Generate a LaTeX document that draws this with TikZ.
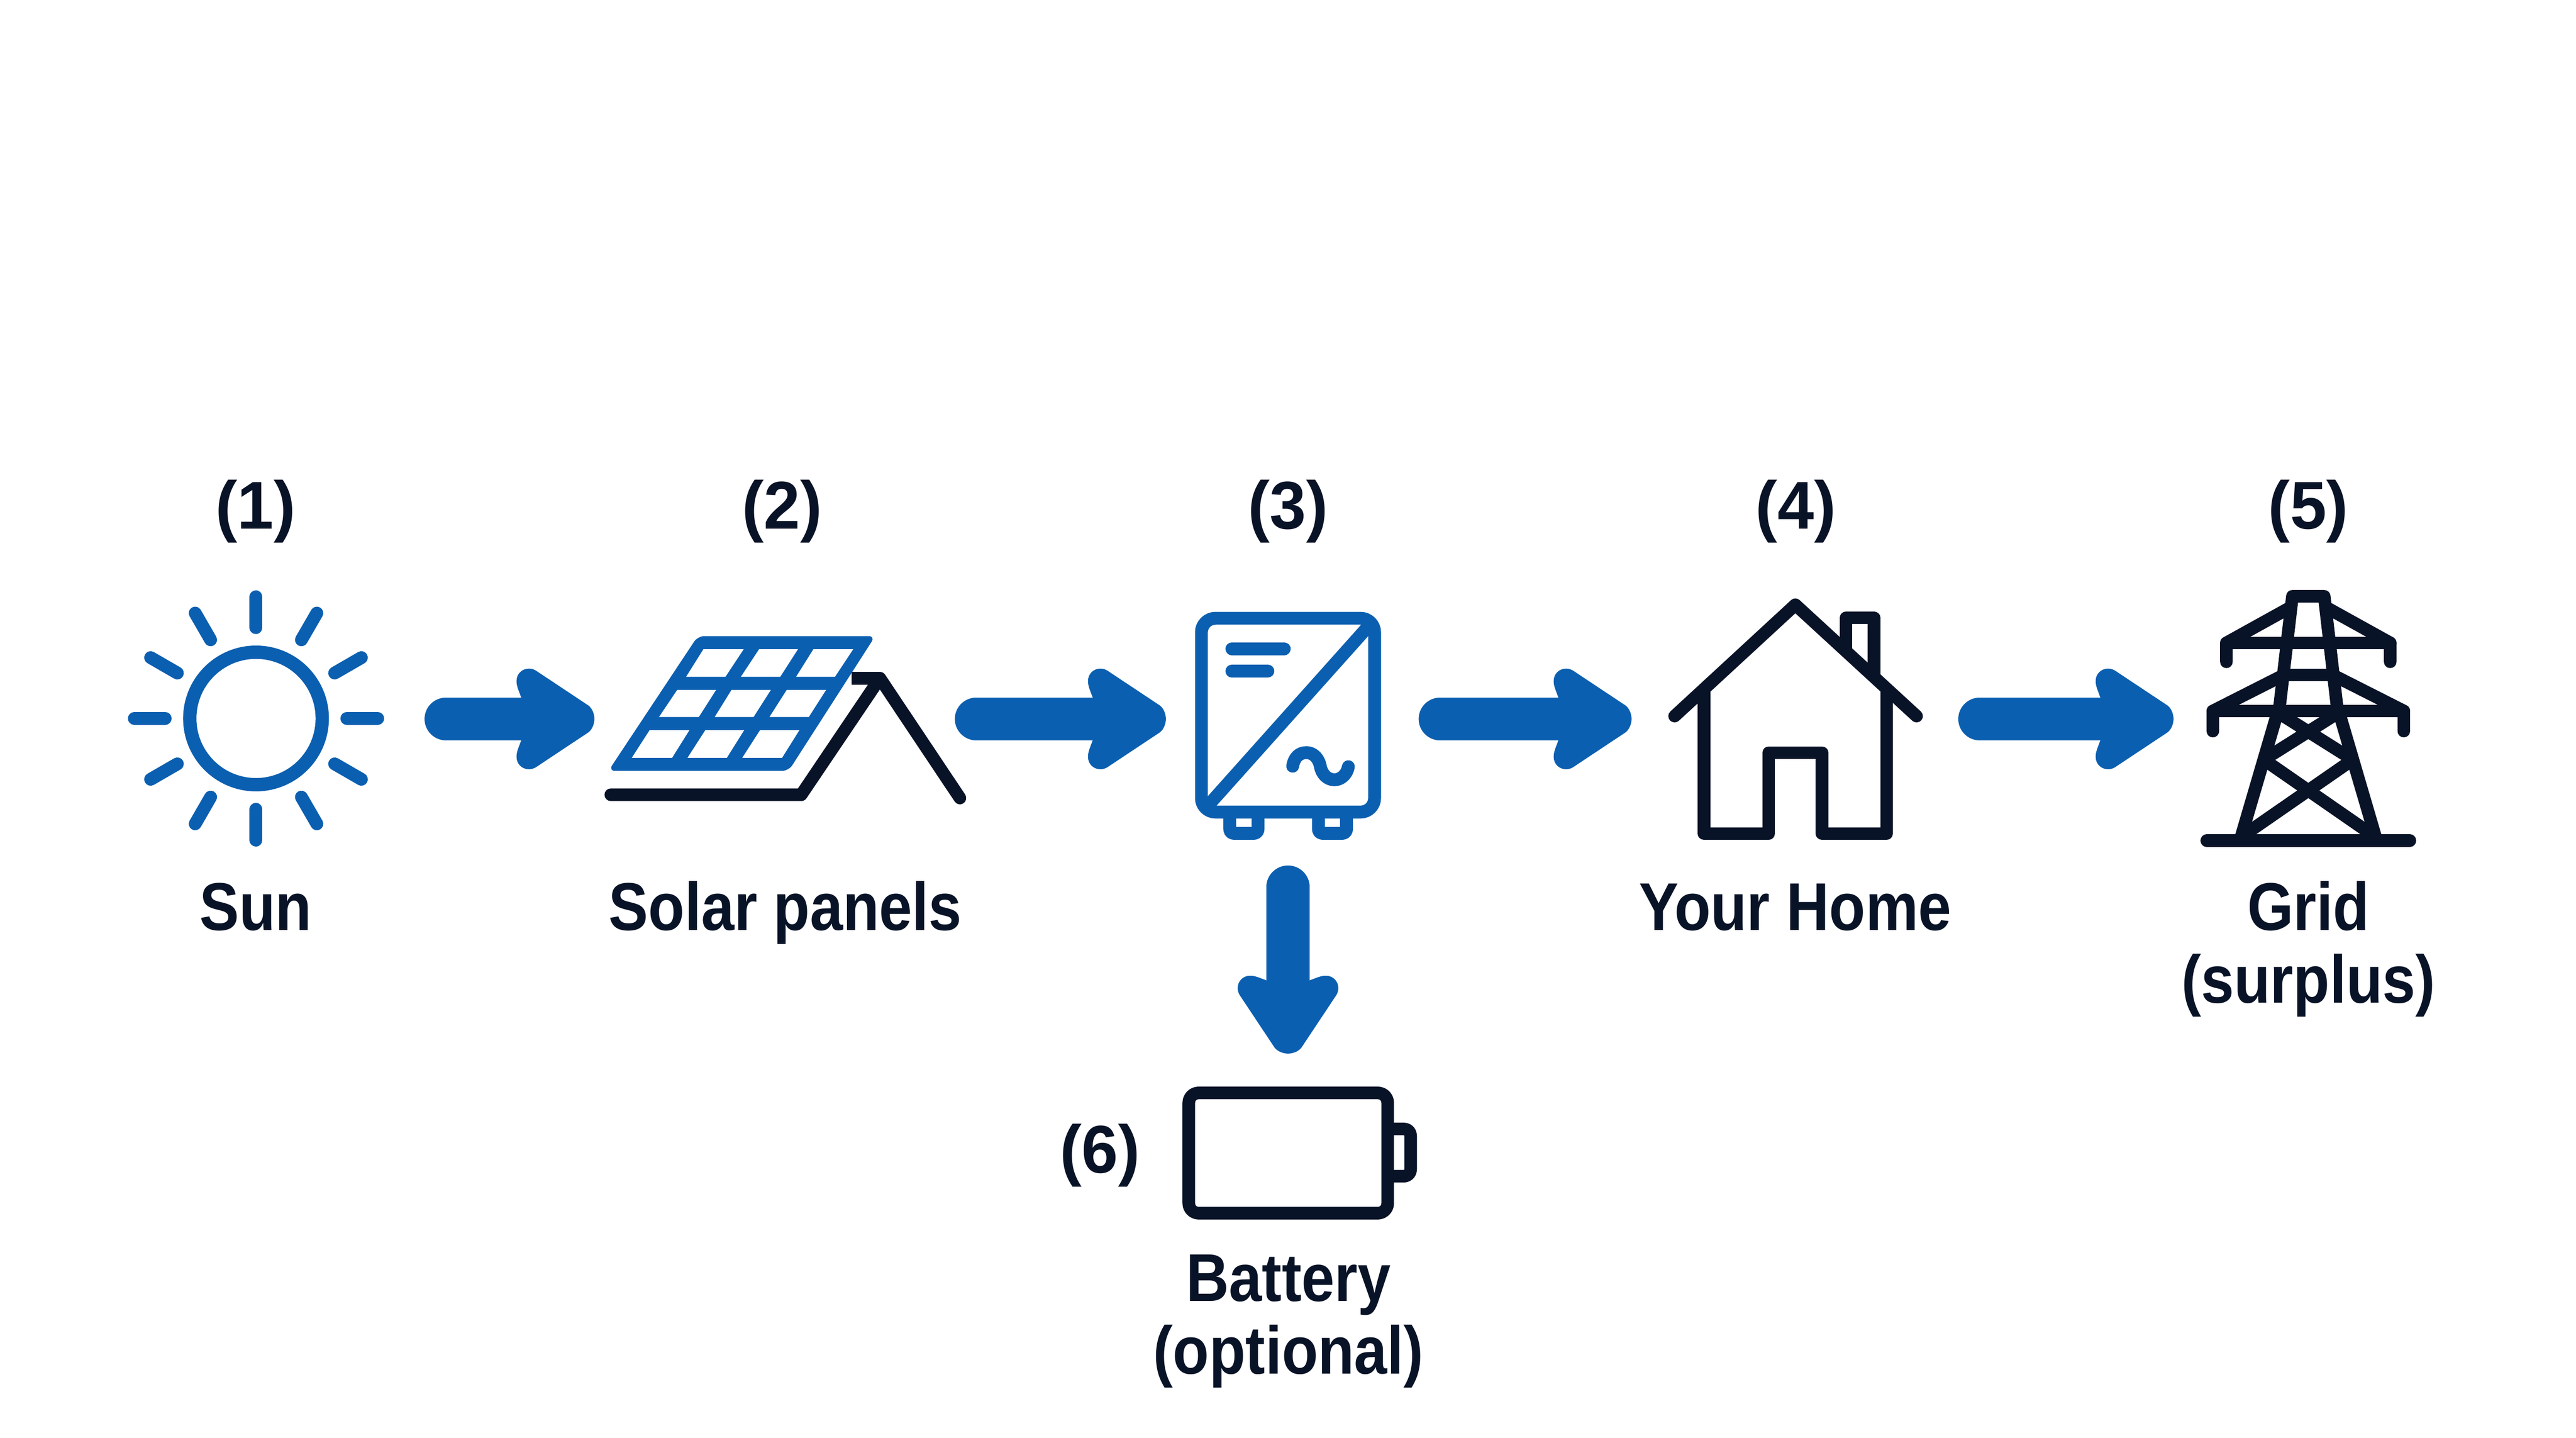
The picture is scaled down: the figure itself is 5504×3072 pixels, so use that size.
\documentclass[tikz,border=0pt]{standalone}
\usepackage{fontspec}
\setmainfont{Liberation Sans}[FakeStretch=0.878]
\newfontfamily\numfont{Liberation Sans}[FakeStretch=0.97]
\definecolor{flowblue}{RGB}{11,95,176}
\definecolor{inkdark}{RGB}{9,19,39}
\pgfdeclarearrow{
  name=FlowHead,
  setup code={
    \pgfarrowssettipend{0pt}
    \pgfarrowssetlineend{-79.4pt}
    \pgfarrowssetvisualbackend{-79.4pt}
    \pgfarrowssetbackend{-94.7pt}
    \pgfarrowshullpoint{0pt}{0pt}
    \pgfarrowshullpoint{-94.7pt}{61.2pt}
    \pgfarrowshullpoint{-94.7pt}{-61.2pt}
  },
  drawing code={
    \pgfpathmoveto{\pgfqpoint{-89pt}{26.1pt}}
    \pgfpathcurveto{\pgfqpoint{-91.8pt}{34pt}}{\pgfqpoint{-94.7pt}{39.7pt}}{\pgfqpoint{-94.7pt}{45.9pt}}
    \pgfpathcurveto{\pgfqpoint{-94.7pt}{55pt}}{\pgfqpoint{-87.9pt}{61.2pt}}{\pgfqpoint{-79.4pt}{61.2pt}}
    \pgfpathcurveto{\pgfqpoint{-75.4pt}{61.2pt}}{\pgfqpoint{-72pt}{59.5pt}}{\pgfqpoint{-69.7pt}{57.8pt}}
    \pgfpathlineto{\pgfqpoint{-7.4pt}{16.4pt}}
    \pgfpathcurveto{\pgfqpoint{-2.8pt}{13pt}}{\pgfqpoint{0pt}{6.2pt}}{\pgfqpoint{0pt}{0pt}}
    \pgfpathcurveto{\pgfqpoint{0pt}{-6.2pt}}{\pgfqpoint{-2.8pt}{-13pt}}{\pgfqpoint{-7.4pt}{-16.4pt}}
    \pgfpathlineto{\pgfqpoint{-69.7pt}{-57.8pt}}
    \pgfpathcurveto{\pgfqpoint{-72pt}{-59.5pt}}{\pgfqpoint{-75.4pt}{-61.2pt}}{\pgfqpoint{-79.4pt}{-61.2pt}}
    \pgfpathcurveto{\pgfqpoint{-87.9pt}{-61.2pt}}{\pgfqpoint{-94.7pt}{-55pt}}{\pgfqpoint{-94.7pt}{-45.9pt}}
    \pgfpathcurveto{\pgfqpoint{-94.7pt}{-39.7pt}}{\pgfqpoint{-91.8pt}{-34pt}}{\pgfqpoint{-89pt}{-26.1pt}}
    \pgfpathclose
    \pgfusepathqfill
  }
}
\tikzset{
  flow/.style={color=flowblue,line width=52.2pt,line cap=round,-{FlowHead}},
  blueline/.style={draw=flowblue,line width=15.6pt,line cap=round,line join=round},
  inkline/.style={draw=inkdark,line width=15.3pt,line cap=round,line join=round},
  lbl/.style={font=\fontsize{82.2}{88.4}\selectfont\bfseries,text=inkdark,inner sep=0pt,anchor=base,align=center},
  numlbl/.style={font=\numfont\fontsize{82.2}{88.4}\selectfont\bfseries,text=inkdark,inner sep=0pt,anchor=base},
  cell/.style={fill=white},
}
\begin{document}
\begin{tikzpicture}[x=0.02cm,y=-0.02cm]
\useasboundingbox (0,0) rectangle (5504,3072);
% number labels
\node[numlbl] (n1) at (546,1130) {(1)};
\node[numlbl] (n2) at (1671,1130) {(2)};
\node[numlbl] (n3) at (2752,1130) {(3)};
\node[numlbl] (n4) at (3837,1130) {(4)};
\node[numlbl] (n5) at (4932,1130) {(5)};
\node[numlbl] (n6) at (2350,2506) {(6)};
% captions
\node[lbl] (t1) at (546,1988) {Sun};
\node[lbl] (t2) at (1678,1988) {Solar panels};
\node[lbl] (t4) at (3836,1988) {Your Home};
\node[lbl] (t5) at (4932,2143) {Grid\\(surplus)};
\node[lbl] (t6) at (2753,2935) {Battery\\(optional)};
% sun
\coordinate (sun) at (547,1535);
\draw[blueline,line width=16.2pt] (sun) circle[radius=141.5];
\foreach \a in {0,30,...,330}
  \draw[blueline,shift={(sun)}] (\a:194) -- (\a:260);
% roof under panel
\draw[inkline] (1305,1698) -- (1712,1698) -- (1880,1449) -- (2051,1705);
\draw[inkline,line cap=butt] (1880,1449) -- (1820,1449);
% panel
\fill[flowblue,rounded corners=8pt] (1491,1359) -- (1870,1359) -- (1685,1647) -- (1300,1647) -- cycle;
\fill[cell] (1503,1387) -- (1589,1387) -- (1550,1446) -- (1466,1446) -- cycle;
\fill[cell] (1622,1387) -- (1705,1387) -- (1667,1446) -- (1583,1446) -- cycle;
\fill[cell] (1738,1387) -- (1823,1387) -- (1784,1446) -- (1701,1446) -- cycle;
\fill[cell] (1447,1474) -- (1530,1474) -- (1493,1532) -- (1408,1532) -- cycle;
\fill[cell] (1563,1474) -- (1647,1474) -- (1610,1532) -- (1527,1532) -- cycle;
\fill[cell] (1681,1474) -- (1765,1474) -- (1728,1532) -- (1644,1532) -- cycle;
\fill[cell] (1388,1560) -- (1473,1560) -- (1436,1619) -- (1350,1619) -- cycle;
\fill[cell] (1507,1560) -- (1590,1560) -- (1553,1619) -- (1469,1619) -- cycle;
\fill[cell] (1624,1560) -- (1708,1560) -- (1671,1619) -- (1586,1619) -- cycle;
% inverter
\draw[blueline,rounded corners=17pt] (2567,1321) rectangle (2937,1735);
\draw[blueline,line cap=butt] (2575,1728) -- (2930,1331);
\draw[blueline] (2632,1386) -- (2744,1386);
\draw[blueline] (2632,1434) -- (2709,1434);
\draw[blueline] (2762,1637) .. controls (2765,1618) and (2776,1608) .. (2791,1608)
  .. controls (2808,1608) and (2818,1622) .. (2821,1637)
  .. controls (2824,1654) and (2836,1666) .. (2851,1666)
  .. controls (2866,1666) and (2878,1654) .. (2881,1638);
\draw[blueline,line cap=butt,rounded corners=5pt] (2627.5,1740) -- (2627.5,1780.5) -- (2688,1780.5) -- (2688,1740);
\draw[blueline,line cap=butt,rounded corners=5pt] (2817,1740) -- (2817,1780.5) -- (2877,1780.5) -- (2877,1740);
% house
\draw[inkline] (3578,1530) -- (3836,1292) -- (4095,1530);
\draw[inkline,line cap=butt] (3641,1472) -- (3641,1781) -- (3779,1781) -- (3779,1608) -- (3893,1608) -- (3893,1781) -- (4031,1781) -- (4031,1472);
\draw[inkline,line cap=butt] (3944,1392) -- (3944,1320) -- (4004,1320) -- (4004,1447);
% tower
\draw[inkline] (4715,1796) -- (5149,1796);
\draw[inkline,line cap=butt] (4786,1796) -- (4871,1506) -- (4898,1274) -- (4966,1274) -- (4993,1506) -- (5078,1796);
\draw[inkline] (4757,1414) -- (4757,1373.5) -- (4895,1297);
\draw[inkline] (5107,1414) -- (5107,1373.5) -- (4969,1297);
\draw[inkline] (4757,1373.5) -- (5107,1373.5);
\draw[inkline,line cap=butt] (4880,1442) -- (4984,1442);
\draw[inkline] (4728,1562) -- (4728,1519) -- (4880,1442);
\draw[inkline] (5136,1562) -- (5136,1519) -- (4984,1442);
\draw[inkline] (4728,1519) -- (5136,1519);
\draw[inkline,line cap=butt] (4865,1521) -- (5027,1623) -- (4786,1790);
\draw[inkline,line cap=butt] (4999,1521) -- (4837,1623) -- (5078,1790);
% battery
\draw[inkline,rounded corners=12pt] (2540,2335) rectangle (2965,2592);
\draw[inkline,line cap=butt,rounded corners=8pt] (2965,2412) -- (3014,2412) -- (3014,2513) -- (2965,2513);
% connectors
\coordinate (a1s) at (953,1536); \coordinate (a1e) at (1270,1536);
\coordinate (a2s) at (2086,1536); \coordinate (a2e) at (2491,1536);
\coordinate (a3s) at (3077,1536); \coordinate (a3e) at (3486,1536);
\coordinate (a4s) at (4230,1536); \coordinate (a4e) at (4644,1536);
\coordinate (a5s) at (2752,1895); \coordinate (a5e) at (2752,2251);
\draw[flow] (a1s) -- (a1e);
\draw[flow] (a2s) -- (a2e);
\draw[flow] (a3s) -- (a3e);
\draw[flow] (a4s) -- (a4e);
\draw[flow] (a5s) -- (a5e);
\end{tikzpicture}
\end{document}
